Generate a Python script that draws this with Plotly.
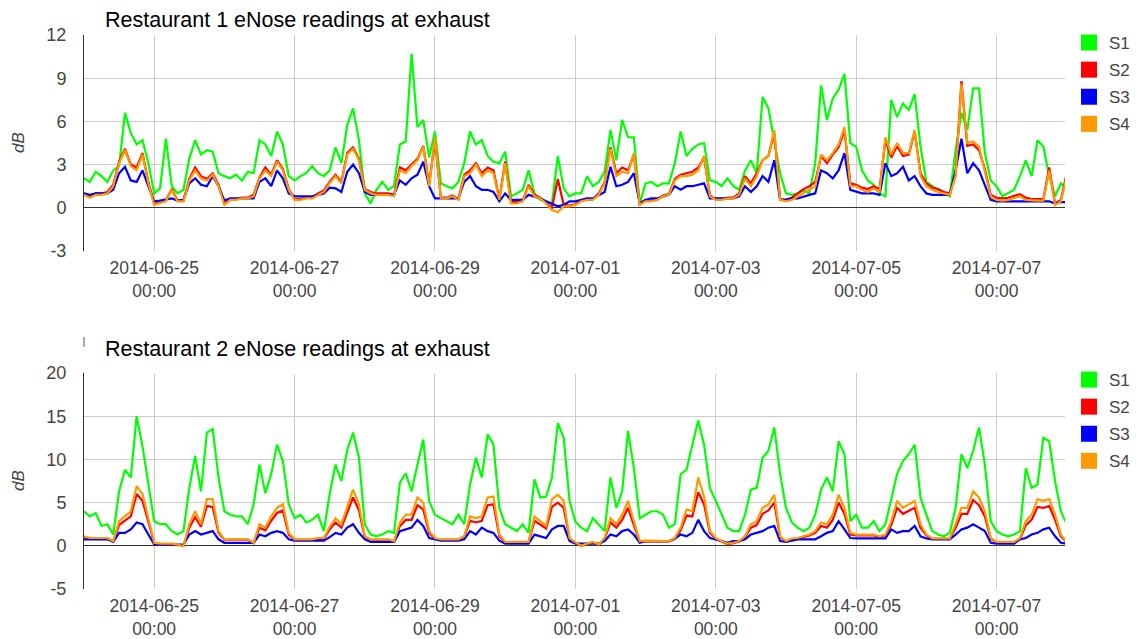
import pandas as pd
import plotly.graph_objects as go

# ---------------- data (2-hour samples starting 2014-06-24 00:00) ----------------
start_time = "2014-06-24 00:00"
sample_step = "2h"
series_names = ["S1", "S2", "S3", "S4"]
series_colors = ["#00ff00", "#ff0000", "#0000ff", "#ff9900"]

r1_s1 = [
    2.05, 1.8, 2.5, 2.2, 1.8, 2.6, 2.9, 6.6, 5.2, 4.4, 4.7, 3.1,
    1.0, 1.35, 4.8, 1.5, 1.0, 1.25, 3.4, 4.7, 3.7, 4.0, 3.9, 2.4,
    2.2, 2.05, 2.3, 1.9, 2.5, 2.4, 4.7, 4.4, 3.6, 5.3, 4.4, 2.2,
    1.9, 2.2, 2.4, 2.9, 2.4, 2.2, 2.6, 4.2, 3.1, 5.75, 6.9, 4.7,
    1.0, 0.3, 1.25, 1.8, 1.25, 1.5, 4.4, 4.6, 10.7, 5.6, 6.1, 3.5,
    5.3, 1.7, 1.5, 1.35, 1.8, 3.1, 5.3, 4.4, 4.7, 3.6, 3.2, 3.1,
    3.9, 0.8, 1.0, 1.25, 2.6, 1.0, 0.55, 0.45, 0.3, 3.6, 1.35, 0.8,
    1.0, 1.0, 2.2, 1.5, 1.8, 2.5, 5.4, 3.3, 6.1, 4.9, 4.9, 0.3,
    1.7, 1.8, 1.5, 1.7, 1.7, 3.1, 5.3, 3.6, 4.1, 4.4, 4.5, 1.9,
    1.8, 1.5, 2.05, 1.5, 1.25, 2.6, 3.3, 2.4, 7.7, 6.9, 4.7, 2.4,
    1.0, 0.9, 1.0, 1.25, 1.0, 3.1, 8.5, 6.1, 7.6, 8.2, 9.3, 4.5,
    4.25, 2.6, 1.9, 1.6, 1.0, 0.8, 7.5, 6.3, 7.25, 6.8, 7.9, 4.25,
    1.8, 1.5, 1.25, 1.0, 0.8, 4.0, 6.6, 5.4, 8.3, 8.3, 3.8, 1.9,
    1.5, 0.8, 1.0, 1.25, 2.2, 3.3, 2.2, 4.7, 4.25, 2.2, 0.8, 1.7,
    1.25,
]
r1_s2 = [
    1.0, 0.8, 1.0, 1.0, 1.1, 1.6, 3.2, 4.1, 3.0, 2.8, 3.8, 1.8,
    0.3, 0.35, 0.5, 1.3, 0.5, 0.5, 2.0, 2.8, 2.2, 2.0, 2.4, 1.6,
    0.3, 0.6, 0.6, 0.7, 0.7, 0.9, 2.1, 2.8, 2.3, 3.3, 2.7, 1.3,
    0.6, 0.6, 0.7, 0.7, 1.0, 1.2, 1.8, 2.3, 1.8, 3.8, 4.2, 3.4,
    1.3, 1.1, 1.0, 1.0, 1.0, 0.9, 2.8, 2.6, 3.0, 3.4, 4.3, 1.6,
    4.7, 0.7, 0.7, 0.85, 0.6, 2.3, 2.6, 3.1, 2.4, 2.8, 2.6, 0.6,
    3.2, 0.4, 0.4, 0.5, 1.6, 0.9, 0.7, 0.35, 0.0, 2.0, 0.2, 0.15,
    0.25, 0.5, 0.6, 0.6, 1.0, 1.8, 4.2, 2.4, 2.8, 2.6, 3.7, 0.25,
    0.5, 0.5, 0.6, 0.85, 0.95, 2.0, 2.3, 2.4, 2.5, 2.8, 3.5, 0.85,
    0.6, 0.6, 0.7, 0.7, 1.0, 2.2, 1.7, 2.4, 3.3, 3.6, 5.2, 0.6,
    0.55, 0.7, 1.0, 1.3, 1.5, 1.8, 3.6, 3.1, 3.7, 4.2, 5.4, 1.7,
    1.6, 1.4, 1.3, 1.5, 1.3, 4.7, 3.5, 4.3, 3.6, 3.7, 5.3, 2.4,
    1.7, 1.4, 1.3, 1.1, 1.0, 2.3, 8.8, 4.3, 4.4, 4.0, 2.7, 0.9,
    0.7, 0.65, 0.7, 0.8, 0.95, 0.7, 0.6, 0.6, 0.6, 2.8, 0.3, 0.55,
    2.4,
]
r1_s3 = [
    1.0, 0.9, 1.0, 1.0, 1.0, 1.25, 2.4, 2.85, 1.9, 1.8, 2.6, 1.5,
    0.45, 0.5, 0.55, 0.65, 0.5, 0.55, 1.7, 2.05, 1.6, 1.5, 2.2, 1.5,
    0.5, 0.65, 0.65, 0.65, 0.65, 0.65, 1.8, 2.05, 1.5, 2.6, 2.05, 1.0,
    0.8, 0.8, 0.8, 0.8, 0.9, 1.0, 1.4, 1.35, 1.1, 2.5, 3.0, 2.4,
    1.1, 0.9, 0.9, 0.9, 0.9, 0.9, 1.9, 1.6, 2.05, 2.3, 3.2, 1.5,
    0.65, 0.65, 0.65, 0.65, 0.65, 1.8, 2.2, 1.5, 1.25, 1.25, 1.1, 0.45,
    1.0, 0.55, 0.55, 0.55, 0.9, 0.8, 0.65, 0.45, 0.3, 0.1, 0.2, 0.45,
    0.45, 0.55, 0.65, 0.65, 0.9, 1.1, 2.85, 1.5, 1.6, 1.8, 2.4, 0.3,
    0.55, 0.65, 0.65, 0.8, 0.9, 1.5, 1.25, 1.5, 1.5, 1.6, 1.7, 0.65,
    0.65, 0.65, 0.65, 0.65, 0.8, 1.5, 1.1, 1.5, 2.2, 1.8, 3.3, 0.55,
    0.55, 0.65, 0.65, 0.8, 0.9, 1.0, 2.6, 2.4, 2.05, 2.6, 3.8, 1.25,
    1.1, 1.0, 1.0, 1.0, 0.9, 3.1, 2.2, 2.4, 2.85, 1.9, 2.2, 1.5,
    1.0, 0.9, 0.9, 0.9, 0.9, 2.6, 4.8, 2.4, 3.1, 2.6, 1.5, 0.55,
    0.45, 0.45, 0.45, 0.45, 0.45, 0.5, 0.5, 0.5, 0.5, 0.45, 0.3, 0.4,
    0.4,
]
r1_s4 = [
    0.9, 0.7, 0.9, 0.9, 1.0, 1.5, 3.1, 4.0, 2.9, 2.6, 3.7, 1.7,
    0.2, 0.3, 0.45, 1.25, 0.45, 0.45, 1.9, 2.6, 2.05, 1.9, 2.3, 1.5,
    0.2, 0.55, 0.55, 0.65, 0.65, 0.8, 2.05, 2.6, 2.2, 3.2, 2.6, 1.25,
    0.55, 0.55, 0.65, 0.65, 0.9, 1.1, 1.7, 2.2, 1.7, 3.7, 4.1, 3.3,
    1.25, 1.0, 0.9, 0.9, 0.9, 0.8, 2.6, 2.4, 2.9, 3.3, 4.25, 1.5,
    4.9, 0.65, 0.65, 0.8, 0.55, 2.2, 2.4, 3.0, 2.2, 2.6, 2.4, 0.55,
    3.1, 0.3, 0.3, 0.45, 1.5, 0.8, 0.65, 0.3, -0.15, -0.3, 0.1, 0.1,
    0.2, 0.45, 0.55, 0.55, 0.9, 1.7, 4.1, 2.2, 2.5, 2.4, 3.8, 0.2,
    0.45, 0.45, 0.55, 0.8, 0.9, 1.9, 2.2, 2.2, 2.3, 2.6, 3.6, 0.8,
    0.55, 0.55, 0.65, 0.65, 0.9, 2.05, 1.5, 2.2, 3.3, 3.6, 5.4, 0.55,
    0.45, 0.55, 0.8, 1.0, 1.25, 1.5, 3.7, 3.3, 3.8, 4.4, 5.6, 1.5,
    1.5, 1.25, 1.1, 1.35, 1.1, 4.9, 3.7, 4.5, 3.8, 3.8, 5.4, 2.2,
    1.5, 1.25, 1.1, 1.0, 0.9, 2.2, 8.6, 4.5, 4.6, 4.25, 2.6, 0.8,
    0.55, 0.5, 0.55, 0.65, 0.8, 0.55, 0.5, 0.5, 0.5, 2.6, 0.2, 0.45,
    2.2,
]

r2_s1 = [
    4.0, 3.4, 3.8, 2.3, 2.5, 1.3, 6.3, 8.8, 7.9, 15.0, 11.5, 7.1,
    2.85, 2.5, 2.5, 1.7, 1.3, 1.7, 6.7, 10.4, 6.3, 13.1, 13.5, 7.9,
    4.0, 3.6, 3.4, 3.4, 2.5, 4.8, 9.4, 6.1, 8.3, 11.7, 9.8, 4.8,
    3.2, 3.6, 2.7, 3.0, 3.6, 1.7, 6.0, 9.4, 7.5, 11.1, 13.1, 10.2,
    2.5, 1.3, 1.1, 1.3, 1.7, 1.5, 7.3, 8.4, 6.3, 9.4, 12.3, 5.2,
    3.6, 3.2, 2.85, 2.5, 3.6, 2.5, 7.1, 10.2, 7.9, 12.9, 11.7, 4.4,
    2.5, 2.1, 1.7, 2.5, 1.5, 7.7, 5.6, 5.7, 7.9, 14.2, 12.5, 5.2,
    2.8, 2.1, 1.7, 3.2, 2.5, 1.7, 7.9, 4.4, 6.3, 13.3, 9.0, 3.2,
    3.6, 4.0, 4.0, 3.6, 2.1, 2.5, 8.3, 8.8, 11.7, 14.5, 11.7, 6.7,
    5.2, 3.6, 2.1, 1.7, 1.7, 3.6, 6.5, 6.7, 10.2, 11.0, 13.7, 8.3,
    4.4, 2.7, 2.1, 1.7, 2.1, 3.6, 6.5, 7.9, 6.3, 12.1, 10.6, 2.85,
    3.6, 2.1, 2.1, 2.85, 1.7, 2.5, 5.6, 8.3, 9.8, 10.6, 11.7, 5.6,
    3.6, 1.7, 1.3, 1.1, 1.5, 4.4, 10.6, 9.0, 11.0, 13.7, 9.4, 2.85,
    1.7, 1.3, 1.1, 1.3, 1.7, 9.0, 6.7, 7.1, 12.5, 12.1, 7.5, 4.0,
    2.5,
]
r2_s2 = [
    1.0, 0.85, 0.85, 0.85, 0.85, 0.5, 2.4, 2.9, 3.4, 6.0, 5.2, 2.8,
    0.3, 0.2, 0.2, 0.2, 0.1, 0.0, 2.1, 3.3, 2.2, 4.6, 4.5, 1.5,
    0.7, 0.7, 0.7, 0.7, 0.7, 0.3, 2.1, 1.8, 2.9, 3.8, 4.1, 1.3,
    0.7, 0.7, 0.7, 0.7, 0.8, 0.8, 1.9, 2.7, 2.1, 3.9, 5.6, 4.1,
    1.0, 0.7, 0.7, 0.7, 0.7, 0.5, 2.3, 3.0, 3.0, 4.7, 4.2, 1.5,
    0.8, 0.7, 0.7, 0.7, 0.7, 1.0, 2.9, 2.7, 2.9, 4.7, 4.8, 1.1,
    0.4, 0.4, 0.4, 0.4, 0.4, 2.9, 2.4, 2.0, 4.5, 5.0, 4.4, 0.8,
    0.35, 0.0, 0.2, 0.4, 0.1, 0.8, 2.7, 2.1, 3.0, 4.4, 2.4, 0.5,
    0.55, 0.55, 0.55, 0.55, 0.5, 0.8, 1.8, 3.5, 3.4, 6.2, 4.8, 1.5,
    0.8, 0.5, 0.2, 0.3, 0.5, 1.0, 2.1, 2.4, 3.7, 4.1, 5.0, 1.0,
    0.5, 0.75, 0.8, 1.0, 1.2, 1.5, 2.3, 2.1, 3.0, 5.0, 3.7, 1.3,
    1.2, 1.2, 1.2, 1.2, 1.0, 1.2, 2.4, 4.4, 3.7, 4.1, 4.4, 2.1,
    1.2, 0.8, 0.8, 0.8, 0.8, 2.1, 3.7, 3.7, 5.3, 4.7, 3.4, 0.8,
    0.4, 0.4, 0.4, 0.4, 0.8, 2.4, 3.0, 4.5, 4.4, 4.6, 3.0, 1.1,
    0.4,
]
r2_s3 = [
    0.75, 0.75, 0.75, 0.75, 0.75, 0.45, 1.5, 1.5, 1.9, 2.7, 2.5, 1.3,
    0.15, 0.15, 0.15, 0.15, 0.15, 0.15, 1.3, 1.7, 1.3, 1.5, 1.7, 0.75,
    0.35, 0.35, 0.35, 0.35, 0.35, 0.35, 1.3, 1.1, 1.5, 1.7, 1.5, 0.75,
    0.6, 0.6, 0.6, 0.6, 0.6, 0.6, 1.0, 1.5, 1.3, 2.1, 2.5, 1.5,
    0.75, 0.45, 0.45, 0.45, 0.45, 0.45, 1.7, 1.9, 2.1, 3.0, 2.3, 0.9,
    0.75, 0.6, 0.6, 0.6, 0.6, 0.75, 1.7, 1.3, 2.1, 1.7, 1.5, 0.6,
    0.25, 0.25, 0.25, 0.25, 0.25, 1.3, 1.1, 0.9, 1.9, 2.3, 2.3, 0.55,
    0.25, 0.25, 0.25, 0.25, 0.25, 0.55, 1.3, 1.1, 1.7, 1.9, 1.3, 0.35,
    0.55, 0.55, 0.55, 0.55, 0.55, 0.85, 1.3, 1.1, 1.5, 3.0, 1.7, 0.9,
    0.75, 0.55, 0.35, 0.55, 0.55, 0.75, 1.3, 1.5, 1.7, 2.1, 2.3, 0.55,
    0.45, 0.6, 0.75, 0.75, 0.75, 0.75, 1.1, 1.5, 1.7, 2.85, 1.9, 0.9,
    0.85, 0.85, 0.85, 0.85, 0.85, 0.85, 1.9, 1.5, 1.7, 1.7, 2.3, 1.1,
    0.85, 0.75, 0.75, 0.75, 0.75, 1.3, 1.9, 2.1, 2.5, 2.1, 1.7, 0.35,
    0.25, 0.25, 0.25, 0.25, 0.75, 0.9, 1.3, 1.5, 1.9, 2.1, 1.1, 0.35,
    0.25,
]
r2_s4 = [
    1.1, 0.9, 0.9, 0.9, 0.9, 0.55, 2.85, 3.4, 4.0, 6.9, 6.0, 3.2,
    0.35, 0.25, 0.25, 0.25, 0.15, -0.05, 2.5, 4.0, 2.5, 5.4, 5.4, 1.7,
    0.75, 0.75, 0.75, 0.75, 0.75, 0.35, 2.5, 2.1, 3.4, 4.4, 4.8, 1.5,
    0.75, 0.75, 0.75, 0.75, 0.9, 0.9, 2.2, 3.2, 2.5, 4.6, 6.5, 4.8,
    1.1, 0.75, 0.75, 0.75, 0.75, 0.55, 2.7, 3.6, 3.6, 5.6, 5.0, 1.7,
    0.9, 0.75, 0.75, 0.75, 0.75, 1.1, 3.4, 3.2, 3.4, 5.6, 5.7, 1.3,
    0.45, 0.45, 0.45, 0.45, 0.45, 3.4, 2.85, 2.3, 5.4, 5.9, 5.2, 0.9,
    0.4, 0.0, 0.25, 0.45, 0.15, 0.9, 3.2, 2.5, 3.6, 5.2, 2.85, 0.55,
    0.6, 0.6, 0.6, 0.6, 0.55, 0.9, 2.1, 4.2, 4.0, 7.9, 5.7, 1.7,
    0.9, 0.55, 0.25, 0.35, 0.55, 1.1, 2.5, 2.85, 4.4, 4.8, 5.9, 1.1,
    0.55, 0.85, 0.9, 1.1, 1.3, 1.7, 2.7, 2.5, 3.6, 5.9, 4.4, 1.5,
    1.3, 1.3, 1.3, 1.3, 1.1, 1.3, 2.85, 5.2, 4.4, 4.8, 5.2, 2.5,
    1.3, 0.85, 0.85, 0.85, 0.85, 2.5, 4.4, 4.4, 6.3, 5.6, 4.0, 0.9,
    0.45, 0.45, 0.45, 0.45, 0.9, 2.85, 3.6, 5.4, 5.2, 5.4, 3.6, 1.3,
    0.45,
]

chart_titles = ["Restaurant 1 eNose readings at exhaust",
                "Restaurant 2 eNose readings at exhaust"]
y_title = "dB"
tick_dates = ["2014-06-25", "2014-06-27", "2014-06-29", "2014-07-01",
              "2014-07-03", "2014-07-05", "2014-07-07"]
tick_time = "00:00"
x_range = ["2014-06-24 00:00", "2014-07-07 23:24"]
y1_ticks = [-3, 0, 3, 6, 9, 12]
y2_ticks = [-5, 0, 5, 10, 15, 20]

# ---------------- figure ----------------
times = pd.date_range(start_time, periods=len(r1_s1), freq=sample_step)
tick_vals = [pd.Timestamp(d + " " + tick_time) for d in tick_dates]
tick_text = [d + "<br>" + tick_time for d in tick_dates]

FONT = "Arial, Liberation Sans, sans-serif"
fig = go.Figure()

charts = [
    ("x", "y", "legend", [r1_s1, r1_s2, r1_s3, r1_s4]),
    ("x2", "y2", "legend2", [r2_s1, r2_s2, r2_s3, r2_s4]),
]
for ci, (xa, ya, lg, data) in enumerate(charts):
    for name, color, vals in zip(series_names, series_colors, data):
        fig.add_trace(go.Scatter(
            x=times, y=vals, xaxis=xa, yaxis=ya, mode="lines", name=name,
            line=dict(color=color, width=2.2), showlegend=False,
            hoverinfo="x+y+name"))
    for name, color in zip(series_names, series_colors):
        fig.add_trace(go.Scatter(
            x=[None], y=[None], xaxis=xa, yaxis=ya, mode="markers", name=name,
            marker=dict(symbol="square", size=16, color=color),
            legend=lg, legendgroup=f"{lg}_{name}", showlegend=True))

# The page body adds an 8px offset; geometry below is given in reference pixels.
OFF = 8
W, H = 1139 - OFF, 639 - OFF
# reference plot area: x 84..1065 ; top plot y 35..251 ; bottom 373..589
L, R = 84 - OFF, W - (1065 - OFF)
T, B = 35 - OFF, H - (589 - OFF)
ph = H - T - B
pw = W - L - R


def py(ref_px):
    return (H - B - (ref_px - OFF)) / ph


def pxx(ref_px):
    return (ref_px - OFF - L) / pw


common_x = dict(type="date", range=x_range, tickvals=tick_vals, ticktext=tick_text,
                showgrid=True, gridcolor="#cccccc", gridwidth=1, zeroline=False,
                showline=False, ticks="outside", ticklen=1, tickcolor="rgba(0,0,0,0)",
                tickfont=dict(family=FONT, size=17.5, color="#444444"))
common_y = dict(showgrid=True, gridcolor="#cccccc", gridwidth=1,
                zeroline=True, zerolinecolor="#333333", zerolinewidth=1,
                showline=True, linecolor="#333333", linewidth=1,
                ticks="outside", ticklen=13, tickcolor="rgba(0,0,0,0)",
                tickfont=dict(family=FONT, size=18, color="#444444"))

legend_common = dict(font=dict(family=FONT, size=17, color="#444444"),
                     bgcolor="rgba(0,0,0,0)", traceorder="grouped",
                     tracegroupgap=2, xanchor="left", yanchor="top",
                     itemclick=False, itemdoubleclick=False)

fig.update_layout(
    width=W, height=H,
    margin=dict(l=L, r=R, t=T, b=B, pad=0, autoexpand=False),
    paper_bgcolor="white", plot_bgcolor="white",
    font=dict(family=FONT, size=15, color="#444444"),
    xaxis=dict(domain=[0, 1], anchor="y", **common_x),
    yaxis=dict(domain=[py(251), 1.0], anchor="x", range=[-3, 12],
               tickvals=y1_ticks, ticktext=[str(v) for v in y1_ticks], **common_y),
    xaxis2=dict(domain=[0, 1], anchor="y2", **common_x),
    yaxis2=dict(domain=[0.0, py(373)], anchor="x2", range=[-5, 20],
                tickvals=y2_ticks, ticktext=[str(v) for v in y2_ticks], **common_y),
    legend=dict(x=pxx(1069), y=py(25), **legend_common),
    legend2=dict(x=pxx(1069), y=py(362), **legend_common),
    showlegend=True,
)

# titles
for title, ypx in zip(chart_titles, [20, 349]):
    fig.add_annotation(text=title, xref="paper", yref="paper", x=pxx(103), y=py(ypx),
                       xanchor="left", yanchor="middle", showarrow=False,
                       font=dict(family=FONT, size=21.5, color="#000000"))
# y axis titles
for ypx in [143, 481]:
    fig.add_annotation(text="<i>" + y_title + "</i>", xref="paper", yref="paper",
                       x=pxx(18), y=py(ypx), xanchor="center", yanchor="middle",
                       textangle=-90, showarrow=False,
                       font=dict(family=FONT, size=17, color="#444444"))

# partially hidden top gridline of the lower chart, and small stray tick mark
fig.add_shape(type="line", xref="paper", yref="y2", x0=pxx(85.5), x1=pxx(718),
              y0=20, y1=20, line=dict(color="white", width=2), layer="above")
fig.add_shape(type="line", xref="paper", yref="paper", x0=0, x1=0,
              y0=py(337), y1=py(347), line=dict(color="#555555", width=1))

fig.write_html("out.html")
